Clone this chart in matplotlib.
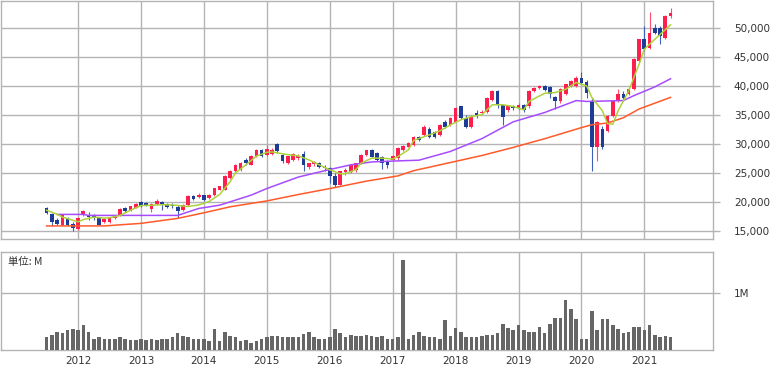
import matplotlib
matplotlib.use("Agg")
import matplotlib.pyplot as plt
import numpy as np
import pandas as pd

plt.rcParams['font.family'] = ['DejaVu Sans']

# monthly candles Jul 2011 .. Jun 2021
months = pd.period_range('2011-07', '2021-06', freq='M')

opens = [19030, 18000, 16900, 16120, 17150, 16300, 15330, 17720, 17830, 17720,
         17260, 16580, 16580, 17260, 17720, 18970, 18570, 19000, 20000, 19880,
         18860, 19700, 20000, 19650, 19535, 19130, 18670, 19535, 20970, 20860,
         21150, 20690, 21260, 22120, 22120, 24135, 25280, 25570, 27300, 26435,
         27870, 28900, 28160, 28200, 30000, 28160, 26720, 27300, 27600, 28300,
         26100, 26500, 26700, 26100, 25800, 24400, 22990, 25100, 25100, 25550,
         26700, 28120, 28970, 28400, 27830, 26980, 27260, 27550, 28970, 29540,
         29830, 31140, 31550, 32580, 32120, 31550, 33850, 33270, 33850, 36440,
         34420, 32990, 35280, 35280, 35570, 37590, 39020, 36720, 35860, 36440,
         36150, 36720, 36440, 39020, 39600, 40000, 39800, 38000, 37400, 38540,
         39970, 39970, 41300, 40600, 37400, 29400, 32500, 32200, 34800, 37390,
         38540, 38540, 39400, 44270, 47990, 46560, 50000, 50000, 48280, 52000]
highs = [19150, 18100, 17300, 17900, 17500, 16500, 17400, 18580, 18300, 17900,
         17400, 17300, 17500, 17700, 19000, 19200, 19400, 19900, 20200, 20000,
         19800, 20450, 20200, 19900, 19800, 19535, 19700, 21200, 21300, 21500,
         21300, 21400, 22500, 22800, 24600, 25600, 26600, 26900, 27600, 28100,
         29100, 29100, 29885, 29300, 30170, 28300, 28000, 28400, 28200, 28700,
         26800, 27000, 26900, 26400, 26000, 25000, 25400, 25800, 26500, 26800,
         28200, 29000, 29200, 28600, 28000, 27200, 28100, 29400, 29800, 30300,
         31300, 31400, 33200, 32990, 32300, 33400, 34100, 34600, 36300, 36600,
         34900, 34900, 35860, 35800, 38000, 39300, 39310, 36900, 36700, 36700,
         37000, 36900, 39300, 39800, 40200, 40200, 39970, 38300, 39600, 40300,
         41000, 41600, 42300, 41000, 37900, 33900, 33000, 35000, 37400, 39400,
         39100, 39600, 44700, 48100, 50300, 52600, 50600, 50300, 52100, 53440]
lows = [18000, 15900, 16000, 16000, 15900, 15040, 15200, 17600, 16860, 17000,
        16000, 16400, 16400, 17100, 17600, 18300, 18400, 18900, 19200, 19300,
        18300, 19500, 18570, 18900, 19000, 17235, 18500, 19400, 20300, 20700,
        20200, 20500, 21100, 22000, 22000, 24000, 25100, 25400, 26435, 26300,
        27700, 27700, 28000, 28100, 28450, 26800, 26500, 27100, 27300, 25270,
        25700, 26200, 25900, 25400, 23270, 22590, 22900, 24700, 25000, 25200,
        26500, 27900, 27700, 27100, 25670, 25840, 27000, 27300, 28800, 29400,
        29700, 30500, 31400, 31090, 31100, 31400, 32800, 33100, 33700, 34200,
        32800, 32800, 34420, 35100, 35400, 37400, 36150, 33270, 35500, 35800,
        35900, 35570, 36200, 38900, 39400, 39100, 37970, 36000, 37000, 38400,
        39800, 39800, 40300, 37900, 25400, 27100, 29200, 32000, 34600, 37200,
        37400, 38400, 39300, 44100, 45990, 46300, 48900, 47100, 48000, 51700]
closes = [18120, 16580, 16300, 17720, 16010, 15550, 17260, 18400, 17430, 17260,
          16120, 17150, 17430, 17600, 18860, 18400, 19300, 19700, 19300, 19430,
          19700, 20110, 19700, 19075, 19250, 18385, 19535, 21090, 20510, 21260,
          20400, 21260, 22400, 22690, 24420, 25400, 26435, 26720, 26720, 27990,
          29020, 27870, 29140, 29020, 28735, 27010, 27870, 28200, 27900, 26400,
          26700, 26900, 26100, 25800, 24400, 22900, 25270, 25550, 26400, 26700,
          28100, 28900, 27830, 27260, 26700, 26410, 27950, 29260, 29660, 30110,
          31140, 30690, 32990, 31260, 31260, 33270, 32990, 34420, 36150, 34420,
          32990, 34710, 35000, 35570, 37870, 39020, 36720, 34710, 36440, 36150,
          36720, 35860, 39020, 39600, 39890, 39300, 38540, 37400, 39400, 40260,
          40830, 41400, 40550, 38800, 29400, 33700, 29400, 34800, 37390, 38540,
          37970, 39400, 44560, 47990, 46280, 49140, 49140, 48570, 52000, 52580]

# volume in millions
volume = [0.23, 0.27, 0.32, 0.30, 0.35, 0.36, 0.35, 0.43, 0.32, 0.19,
          0.22, 0.20, 0.19, 0.19, 0.22, 0.19, 0.17, 0.17, 0.19, 0.17,
          0.19, 0.18, 0.19, 0.19, 0.22, 0.30, 0.25, 0.22, 0.19, 0.19,
          0.19, 0.15, 0.36, 0.15, 0.32, 0.25, 0.22, 0.16, 0.17, 0.13,
          0.15, 0.19, 0.23, 0.25, 0.25, 0.22, 0.22, 0.23, 0.22, 0.28,
          0.32, 0.23, 0.19, 0.20, 0.22, 0.36, 0.30, 0.23, 0.27, 0.24,
          0.25, 0.27, 0.25, 0.22, 0.25, 0.19, 0.19, 0.23, 1.58, 0.19,
          0.27, 0.32, 0.25, 0.23, 0.23, 0.19, 0.52, 0.25, 0.39, 0.32,
          0.23, 0.22, 0.22, 0.25, 0.27, 0.26, 0.30, 0.45, 0.39, 0.35,
          0.43, 0.35, 0.32, 0.32, 0.41, 0.30, 0.45, 0.56, 0.56, 0.87,
          0.72, 0.54, 0.19, 0.19, 0.69, 0.35, 0.54, 0.54, 0.43, 0.36,
          0.30, 0.32, 0.41, 0.40, 0.35, 0.43, 0.27, 0.23, 0.25, 0.23]

# moving average lines (month index, value)
ma_short_idx = [0, 2, 3, 5, 6, 7, 9, 11, 12, 14, 16, 18, 20, 22, 24, 27, 29, 31, 33, 35,
                36, 38, 40, 42, 43, 46, 48, 50, 52, 54, 56, 57, 59, 60, 62, 64, 66, 67, 69, 70,
                73, 75, 77, 79, 81, 83, 85, 87, 89, 91, 92, 94, 95, 97, 99, 101, 103, 104, 106, 107,
                108, 109, 111, 113, 114, 116, 119]
ma_short = [18600, 17900, 17430, 16870, 16600, 17000, 17400, 17250, 17300, 17700, 18600, 19400, 19450, 19550, 19500, 19250, 19500, 20100, 21300, 23500,
            25000, 26400, 27900, 28560, 28620, 28150, 27950, 27260, 26400, 25550, 24870, 24870, 25600, 26700, 27550, 27550, 27400, 27830, 28970, 30600,
            31550, 32240, 33270, 34140, 34710, 35000, 36720, 36720, 36440, 35860, 37300, 38250, 38700, 38830, 39400, 40550, 39970, 37970, 35680, 33450,
            33400, 35680, 39110, 43700, 46280, 47990, 50460]

ma_mid_idx = [2, 7, 8, 25, 29, 33, 39, 42, 48, 54, 58, 62, 66, 71, 77, 83, 89, 95, 101, 103,
              110, 112, 116, 119]
ma_mid = [17880, 17880, 17710, 17710, 18900, 19470, 21190, 22330, 24300, 25600, 26400, 26900, 27050, 27200, 28700, 30900, 33800, 35400, 37450, 37300,
          37450, 38300, 39800, 41200]

ma_long_idx = [0, 11, 18, 25, 30, 35, 42, 48, 55, 61, 67, 70, 76, 83, 89, 95, 102, 104, 107, 110,
               113, 116, 119]
ma_long = [15900, 15900, 16340, 17200, 18160, 19190, 20200, 21300, 22500, 23600, 24500, 25400, 26600, 28000, 29400, 30900, 32800, 33300, 33600, 34500,
           36000, 37000, 38000]

up_col = '#ff1f4f'
down_col = '#1c3c96'
grid_col = '#b4b4b4'
text_col = '#333333'

fig = plt.figure(figsize=(7.79, 3.68), dpi=100)
ax = fig.add_axes([0.0013, 0.3505, 0.9140, 0.6468])
axv = fig.add_axes([0.0013, 0.0489, 0.9140, 0.2663], sharex=ax)

x = np.arange(len(months))
o = np.array(opens)
c = np.array(closes)
up = c >= o
cols = np.where(up, up_col, down_col)
wick_cols = np.where(up, '#ff4d6e', '#3f62b8')

ax.vlines(x, lows, highs, colors=wick_cols, linewidth=0.8, zorder=3)
body_lo = np.minimum(o, c)
body_h = np.maximum(np.abs(c - o), 80)
ax.bar(x, body_h, bottom=body_lo, width=0.7, color=cols, linewidth=0, zorder=4)

ax.plot(ma_long_idx, ma_long, color='#ff5a2a', lw=1.1, zorder=5)
ax.plot(ma_mid_idx, ma_mid, color='#a64cff', lw=1.1, zorder=5)
ax.plot(ma_short_idx, ma_short, color='#aed23a', lw=1.1, zorder=6)

axv.bar(x, volume, width=0.68, color='#666666', linewidth=0, zorder=3)

year_pos = [i for i, m in enumerate(months) if m.month == 1]
year_lab = [str(months[i].year) for i in year_pos]

for a in (ax, axv):
    a.set_xlim(-8.7, 127.1)
    a.set_xticks(year_pos)
    a.grid(True, color=grid_col, lw=1.0, zorder=0)
    for s in a.spines.values():
        s.set_color(grid_col)
        s.set_linewidth(1.0)
    a.yaxis.tick_right()
    a.tick_params(axis='y', colors=grid_col, length=5, width=1.0, pad=10,
                  labelcolor=text_col, labelsize=7.5)
    a.tick_params(axis='x', length=0, labelcolor=text_col, labelsize=7.5)

ax.set_ylim(13650, 54570)
ax.set_yticks(range(15000, 50001, 5000))
ax.set_yticklabels([f'{v:,}' for v in range(15000, 50001, 5000)])
ax.tick_params(axis='x', labelbottom=False)

axv.set_ylim(0, 1.715)
axv.set_yticks([1.0])
axv.set_yticklabels(['1M'])
axv.set_xticklabels(year_lab)
axv.tick_params(axis='x', pad=4)
axv.text(0.01, 0.9, '単位: M', transform=axv.transAxes, fontsize=7.5, color=text_col,
         va='center', ha='left', family=['Noto Sans CJK JP', 'DejaVu Sans'])

fig.savefig('out.png', dpi=100)
